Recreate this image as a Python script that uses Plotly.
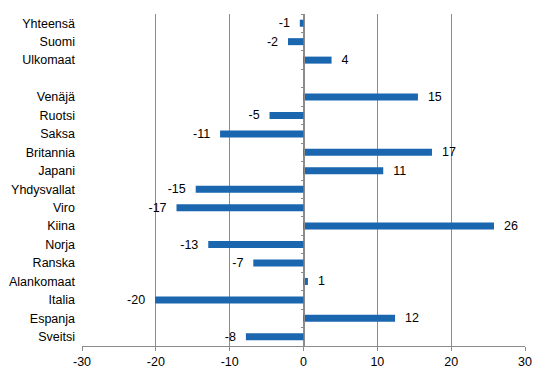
import plotly.graph_objects as go

categories = ["Yhteensä", "Suomi", "Ulkomaat", " ", "Venäjä", "Ruotsi", "Saksa",
              "Britannia", "Japani", "Yhdysvallat", "Viro", "Kiina", "Norja",
              "Ranska", "Alankomaat", "Italia", "Espanja", "Sveitsi"]
values = [-0.5, -2.1, 3.8, None, 15.5, -4.6, -11.3, 17.4, 10.8, -14.6, -17.2,
          25.8, -12.9, -6.8, 0.6, -20.1, 12.4, -7.8]
labels = ["-1", "-2", "4", "", "15", "-5", "-11", "17", "11", "-15", "-17",
          "26", "-13", "-7", "1", "-20", "12", "-8"]
x_ticks = [-30, -20, -10, 0, 10, 20, 30]

FONT = "Liberation Sans, Arial, sans-serif"
FS = 12.5
BAR = "#1a66af"
GRID = "#8c8c8c"

texts = []
for v, l in zip(values, labels):
    if v is None:
        texts.append("")
    elif v < 0:
        texts.append(l + "  ")
    else:
        texts.append("  " + l)

fig = go.Figure()
fig.add_trace(go.Bar(
    y=categories, x=values, orientation="h",
    marker=dict(color=BAR, line=dict(width=0)),
    width=0.38,
    text=texts, textposition="outside", constraintext="none",
    textfont=dict(family=FONT, size=FS, color="#000000"),
    cliponaxis=False, hoverinfo="skip",
))
# invisible helper trace to register the zero-line category axis
fig.add_trace(go.Scatter(
    y=categories, x=[0] * len(categories), yaxis="y2", mode="markers",
    marker=dict(opacity=0), hoverinfo="skip", showlegend=False,
))

cat_range = [len(categories) - 0.5, -0.5]

fig.update_layout(
    template="none",
    width=538, height=368,
    margin=dict(l=74, r=21, t=6, b=30, autoexpand=False),
    paper_bgcolor="white", plot_bgcolor="white",
    showlegend=False,
    font=dict(family=FONT, size=FS, color="#000000"),
    xaxis=dict(
        range=[-30, 30], tickvals=x_ticks, ticktext=[str(t) for t in x_ticks],
        showgrid=True, gridcolor=GRID, gridwidth=1,
        zeroline=False, automargin=False,
        showline=True, linecolor=GRID, linewidth=1,
        ticks="outside", ticklen=4, tickcolor=GRID,
        tickfont=dict(family=FONT, size=FS, color="#000000"),
        fixedrange=True,
    ),
    yaxis=dict(
        type="category", categoryorder="array", categoryarray=categories,
        range=cat_range, showgrid=False, zeroline=False, showline=False,
        ticks="", ticklabelstandoff=6, automargin=False,
        tickfont=dict(family=FONT, size=FS, color="#000000"),
        fixedrange=True,
    ),
    yaxis2=dict(
        type="category", categoryorder="array", categoryarray=categories,
        range=cat_range, overlaying="y", anchor="free", position=0.5,
        showgrid=False, zeroline=False, automargin=False,
        showline=True, linecolor=GRID, linewidth=1,
        ticks="outside", tickson="boundaries", ticklen=3, tickcolor=GRID,
        showticklabels=False, fixedrange=True,
    ),
)

fig.write_html("out.html")
